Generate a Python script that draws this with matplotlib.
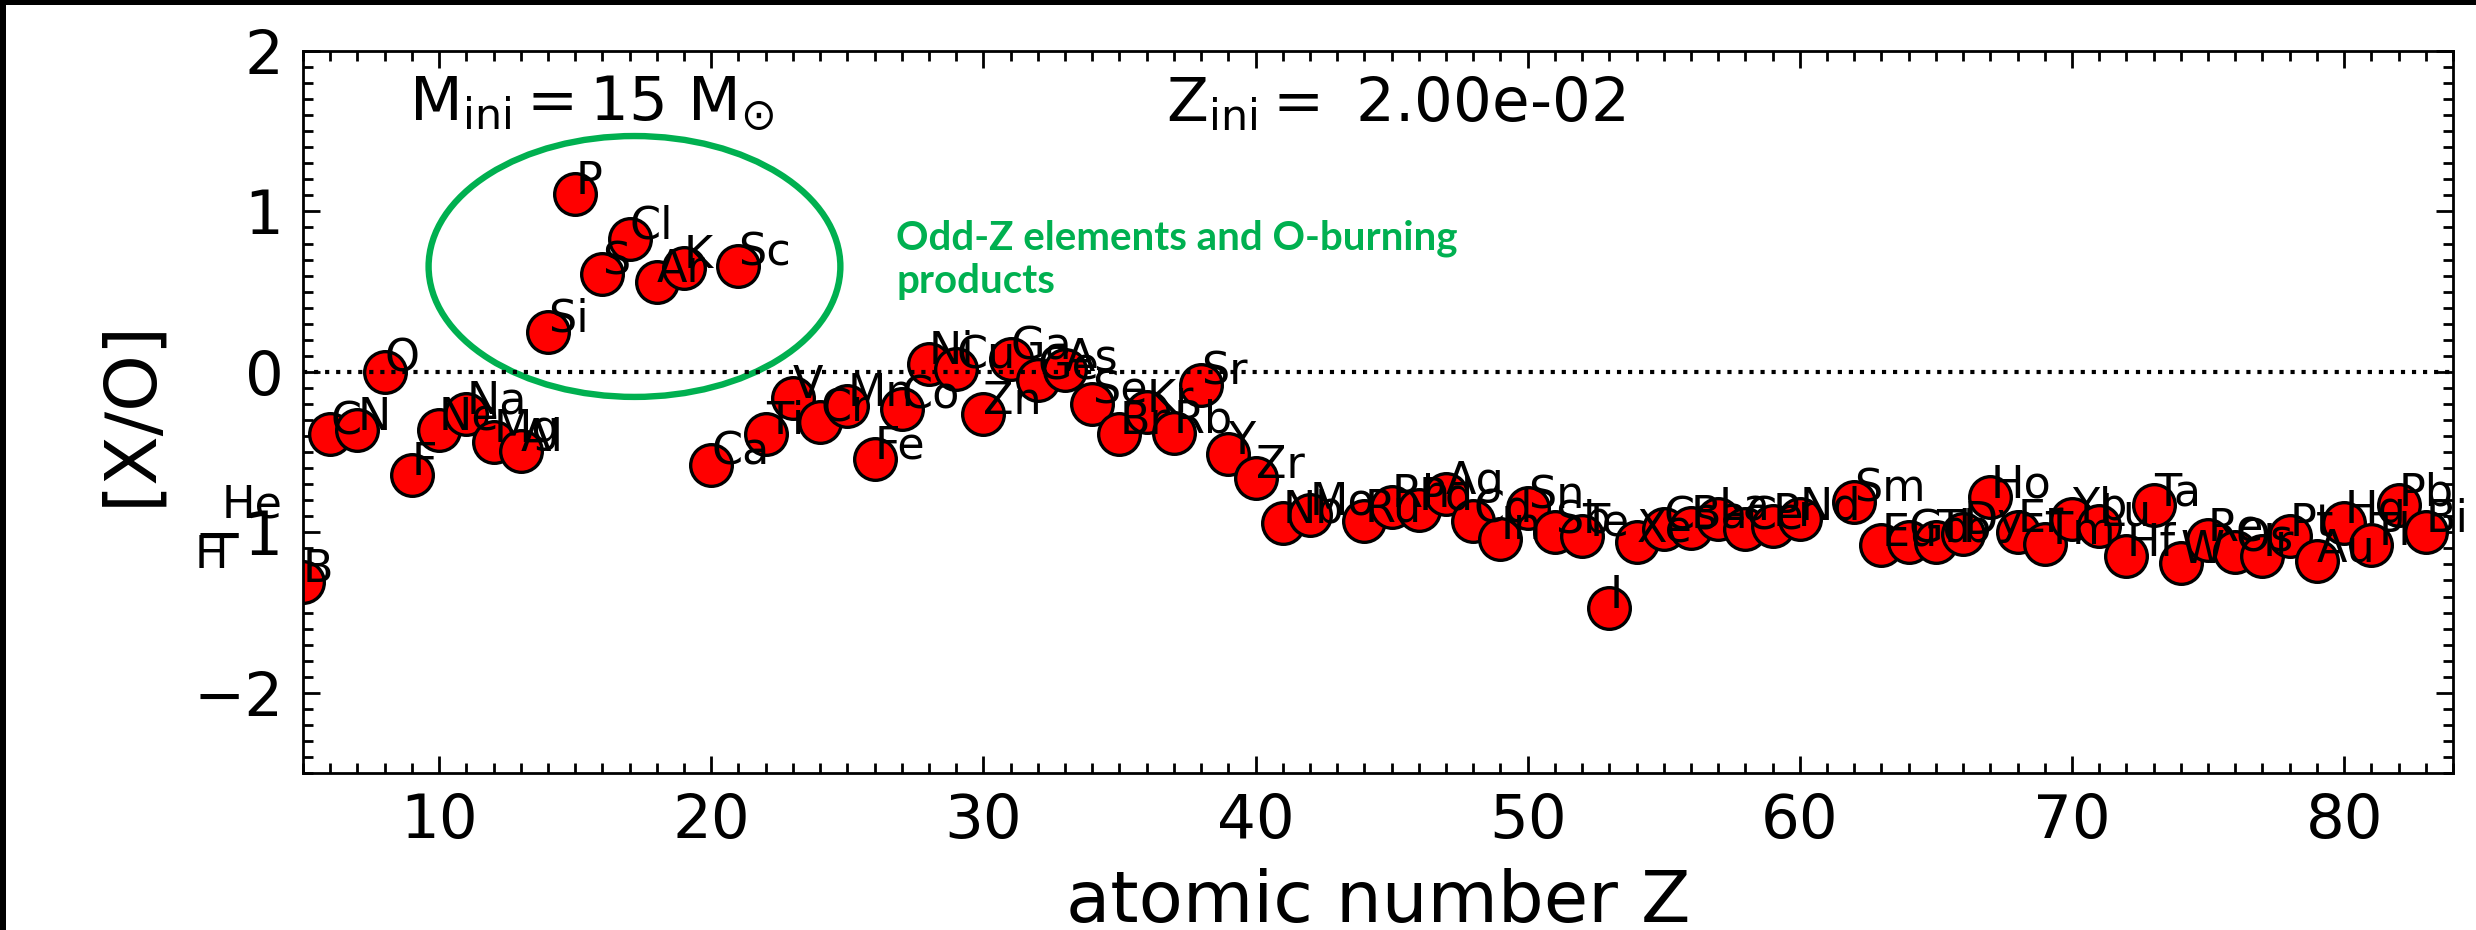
"""[X/O] abundance pattern versus atomic number."""

import matplotlib
matplotlib.use("Agg")
import matplotlib.pyplot as plt
from matplotlib.patches import Ellipse, Rectangle
from matplotlib.ticker import MultipleLocator

# element symbols, atomic numbers and [X/O]
symbols = ['H', 'He', 'B', 'C', 'N', 'O', 'F', 'Ne', 'Na', 'Mg', 'Al', 'Si', 'P', 'S',
           'Cl', 'Ar', 'K', 'Ca', 'Sc', 'Ti', 'V', 'Cr', 'Mn', 'Fe', 'Co', 'Ni',
           'Cu', 'Zn', 'Ga', 'Ge', 'As', 'Se', 'Br', 'Kr', 'Rb', 'Sr', 'Y', 'Zr',
           'Nb', 'Mo', 'Ru', 'Rh', 'Pd', 'Ag', 'Cd', 'In', 'Sn', 'Sb', 'Te', 'I',
           'Xe', 'Cs', 'Ba', 'La', 'Ce', 'Pr', 'Nd', 'Sm', 'Eu', 'Gd', 'Tb', 'Dy',
           'Ho', 'Er', 'Tm', 'Yb', 'Lu', 'Hf', 'Ta', 'W', 'Re', 'Os', 'Ir', 'Pt',
           'Au', 'Hg', 'Tl', 'Pb', 'Bi']
Z = [1, 2, 5, 6, 7, 8, 9, 10, 11, 12, 13, 14, 15, 16,
     17, 18, 19, 20, 21, 22, 23, 24, 25, 26, 27, 28,
     29, 30, 31, 32, 33, 34, 35, 36, 37, 38, 39, 40,
     41, 42, 44, 45, 46, 47, 48, 49, 50, 51, 52, 53,
     54, 55, 56, 57, 58, 59, 60, 62, 63, 64, 65, 66,
     67, 68, 69, 70, 71, 72, 73, 74, 75, 76, 77, 78,
     79, 80, 81, 82, 83]
XO = [-1.22, -0.91, -1.31, -0.39, -0.36, 0.00, -0.64, -0.36, -0.26, -0.44, -0.49, 0.25, 1.11, 0.61,
      0.83, 0.56, 0.65, -0.58, 0.66, -0.39, -0.16, -0.31, -0.21, -0.54, -0.23, 0.05,
      0.02, -0.26, 0.08, -0.05, 0.01, -0.20, -0.39, -0.25, -0.38, -0.08, -0.51, -0.66,
      -0.94, -0.89, -0.93, -0.84, -0.86, -0.76, -0.93, -1.04, -0.85, -1.00, -1.02, -1.47,
      -1.06, -0.98, -0.97, -0.92, -0.98, -0.96, -0.92, -0.81, -1.08, -1.06, -1.06, -1.01,
      -0.78, -1.00, -1.07, -0.92, -0.96, -1.15, -0.83, -1.19, -1.05, -1.12, -1.15, -1.02,
      -1.18, -0.94, -1.08, -0.83, -1.00]

M_ini = 15
Z_ini = 0.02

plt.rcParams['mathtext.fontset'] = 'dejavusans'

fig = plt.figure(figsize=(12.38, 4.65), dpi=200, facecolor='black')
# white sheet over a dark slide background
fig.patches.append(Rectangle((6 / 2476, 0), 1, 1 - 5 / 930, transform=fig.transFigure,
                             facecolor='white', edgecolor='none', zorder=-10))
ax = fig.add_axes([303 / 2476, 1 - 773 / 930, 2150 / 2476, 722 / 930])

for z, v, s in zip(Z, XO, symbols):
    ax.plot(z, v, 'o', color='red', markeredgecolor='black', markersize=15,
            markeredgewidth=1.2)
    ax.text(z, v, s, fontsize=16)

ax.axhline(0, color='black', linestyle=':', linewidth=1.5)

# highlight of the odd-Z / O-burning group
ell = Ellipse((17.18, 0.657), 15.13, 1.626, fill=False, edgecolor='#00B050', linewidth=2.3)
ax.add_patch(ell)
ax.text(26.8, 0.76, 'Odd-Z elements and O-burning', color='#00B050',
        fontsize=14.5, fontweight='bold', family='Lato')
ax.text(26.8, 0.49, 'products', color='#00B050',
        fontsize=14.5, fontweight='bold', family='Lato')

ax.text(8.9, 1.56, r'$\rm M_{ini} = %d\ M_{\odot}$' % M_ini, fontsize=22)
ax.text(36.7, 1.56, r'$\rm Z_{ini} =$ %.2e' % Z_ini, fontsize=22)

ax.set_xlim(5, 84)
ax.set_ylim(-2.5, 2)
ax.xaxis.set_major_locator(MultipleLocator(10))
ax.xaxis.set_minor_locator(MultipleLocator(1))
ax.yaxis.set_major_locator(MultipleLocator(1))
ax.yaxis.set_minor_locator(MultipleLocator(0.1))
ax.tick_params(which='both', direction='in', top=True, right=True, labelsize=22, width=1)
ax.tick_params(which='major', length=6, pad=7)
ax.tick_params(which='minor', length=3.6)
for sp in ax.spines.values():
    sp.set_linewidth(1)

ax.set_xlabel('atomic number Z', fontsize=26, labelpad=6)
ax.set_ylabel('[X/O]', fontsize=26, labelpad=10)

fig.savefig('out.png', dpi=200, facecolor=fig.get_facecolor())
